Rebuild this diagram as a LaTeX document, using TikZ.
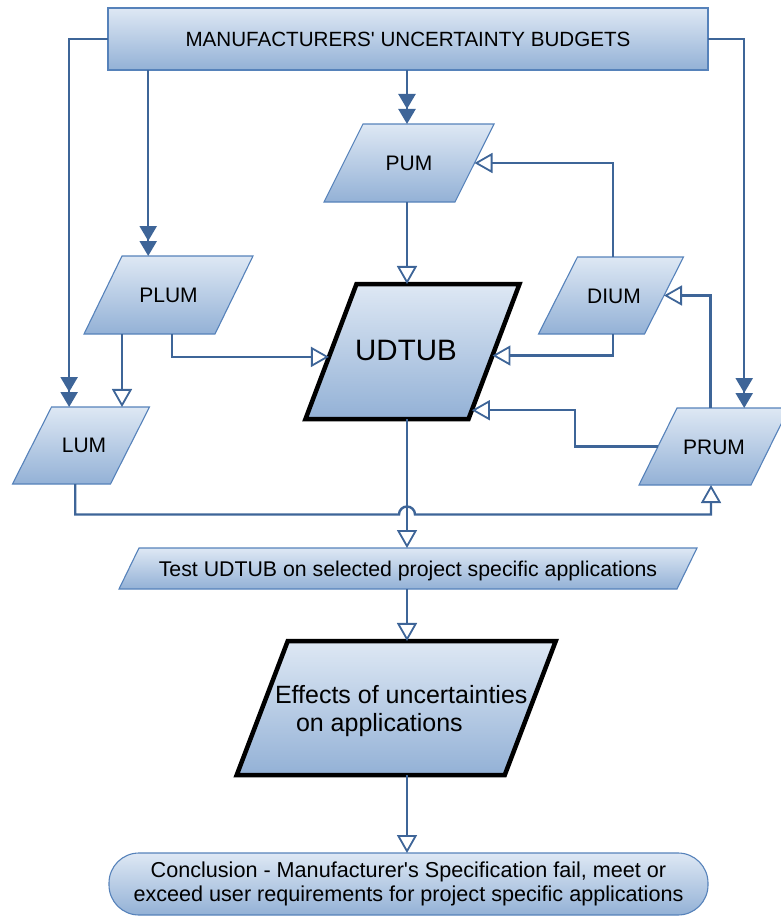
\documentclass[tikz,border=0pt]{standalone}
\usepackage{fontspec}
\setmainfont{Liberation Sans}
\usetikzlibrary{shapes.geometric,arrows.meta,calc}

\definecolor{shadetop}{RGB}{222,232,244}
\definecolor{shadebot}{RGB}{147,177,214}
\definecolor{edgeblue}{RGB}{86,130,186}
\definecolor{linkblue}{RGB}{62,101,152}

% body of a slanted box: width, depth below the baseline, full height, text
\newcommand{\slantbody}[4]{\makebox[#1pt]{\rule[-#2pt]{0pt}{#3pt}#4}}

\tikzset{
  every node/.style={inner sep=0pt, outer sep=0pt},
  shaded/.style={draw=edgeblue, line width=1.1pt, top color=shadetop, bottom color=shadebot},
  heavy/.style={draw=black, line width=4.5pt},
  lbl/.style={font=\fontsize{21}{24}\selectfont},
  slant/.style 2 args={shaded, lbl, trapezium,
     trapezium left angle=#1, trapezium right angle=#2},
  link/.style={draw=linkblue, line width=2.4pt},
  feed/.style={link, arrows={-{Triangle[length=15pt,width=17pt,sep=0pt]Triangle[length=15pt,width=17pt]}}},
  flow/.style={link, arrows={-{Triangle[open,length=18pt,width=20pt,line width=1.8pt]}}},
}

\begin{document}
\begin{tikzpicture}[x=1pt,y=-1pt]
\useasboundingbox (0,0) rectangle (780,916);

% boxes
\node[shaded, minimum width=600pt, minimum height=62pt, font=\fontsize{20.6}{24}\selectfont]
  (mub) at (408,39) {MANUFACTURERS\textquotesingle{} UNCERTAINTY BUDGETS};
\node[slant={63.43}{116.57}] (pum) at (409,163) {\slantbody{92}{31.48}{78}{PUM}};
\node[slant={64.03}{115.97}] (plum) at (168.5,295) {\slantbody{93}{31.48}{78}{PLUM}};
\node[slant={63.14}{116.86}] (lum) at (81,445.5) {\slantbody{59}{31.48}{77}{\hspace*{6pt}LUM}};
\node[slant={63.14}{116.86}] (dium) at (611,295.5) {\slantbody{67}{30.48}{77}{\hspace*{6pt}DIUM}};
\node[slant={63.73}{116.27}] (prum) at (714,446.5) {\slantbody{74}{30.48}{77}{PRUM}};
\node[slant={69.3}{110.7}, heavy, font=\fontsize{29.5}{32}\selectfont]
  (udtub) at (412.5,351.5) {\slantbody{112}{58.44}{135}{\hspace*{-13pt}UDTUB}};
\node[slant={64}{116}, font=\fontsize{21.3}{24}\selectfont]
  (test) at (408,568.5) {\slantbody{538}{12.87}{41}{Test UDTUB on selected project specific applications}};
\node[slant={69.16}{110.84}, heavy] (eff) at (396.25,708) {\slantbody{217}{67}{134}{}};
\node[font=\fontsize{25}{28}\selectfont, align=left, anchor=west]
  (efftext) at (275,711) {Effects of uncertainties\\\hspace*{21pt}on applications};
\node[shaded, rounded corners=30pt, minimum width=599pt, minimum height=62pt,
      align=center, font=\fontsize{21.6}{24}\selectfont]
  (concl) at (408.5,884) {Conclusion - Manufacturer\textquotesingle s Specification fail, meet or\\exceed user requirements for project specific applications};

% connection points
\coordinate (ax) at (407,0);
\coordinate (hop) at (407,514.5);
\coordinate (lumIn) at ($(lum.top left corner)!.18!(lum.top right corner)$);
\coordinate (prumIn) at ($(prum.top left corner)!.6!(prum.top right corner)$);
\coordinate (plumIn) at ($(plum.top left corner)!.2!(plum.top right corner)$);
\coordinate (plumOutA) at ($(plum.bottom left corner)!.29!(plum.bottom right corner)$);
\coordinate (plumOutB) at ($(plum.bottom left corner)!.672!(plum.bottom right corner)$);
\coordinate (udL) at ($(udtub.top left corner)!.54!(udtub.bottom left corner)$);
\coordinate (udR1) at ($(udtub.top right corner)!.53!(udtub.bottom right corner)$);
\coordinate (udR2) at ($(udtub.top right corner)!.935!(udtub.bottom right corner)$);
\coordinate (diumOut) at ($(dium.bottom left corner)!.70!(dium.bottom right corner)$);
\coordinate (diumTop) at ($(dium.top left corner)!.333!(dium.top right corner)$);
\coordinate (prumTop) at ($(prum.top left corner)!.30!(prum.top right corner)$);
\coordinate (lumOut) at ($(lum.bottom left corner)!.64!(lum.bottom right corner)$);
\coordinate (prumBot) at ($(prum.bottom left corner)!.643!(prum.bottom right corner)$);

% budgets feeding the models
\draw[feed] (mub.west) -| (lumIn);
\draw[feed] (mub.east) -| (prumIn);
\draw[feed] (mub.south -| plumIn) -- (plumIn);
\draw[feed] (mub.south -| ax) -- (pum.north -| ax);

% main chain
\draw[flow] (pum.south -| ax) -- (udtub.north -| ax);
\draw[flow] (udtub.south -| ax) -- (test.north -| ax);
\draw[flow] (test.south -| ax) -- (eff.north -| ax);
\draw[flow] (eff.south -| ax) -- (concl.north -| ax);

% model links
\draw[flow] (plumOutA) -- (plumOutA |- lum.north);
\draw[flow] (plumOutB) |- (udL);
\draw[flow] (diumOut) |- (udR1);
\draw[flow] (diumTop) |- (pum.right side);
\draw[flow] (prumTop) |- (dium.right side);
\draw[flow] (prum.left side) -- ++(-83,0) |- (udR2);
\draw[flow] (lumOut) |- ([xshift=-8pt]hop) arc[start angle=180, end angle=0, radius=8pt] -| (prumBot);
\end{tikzpicture}
\end{document}
